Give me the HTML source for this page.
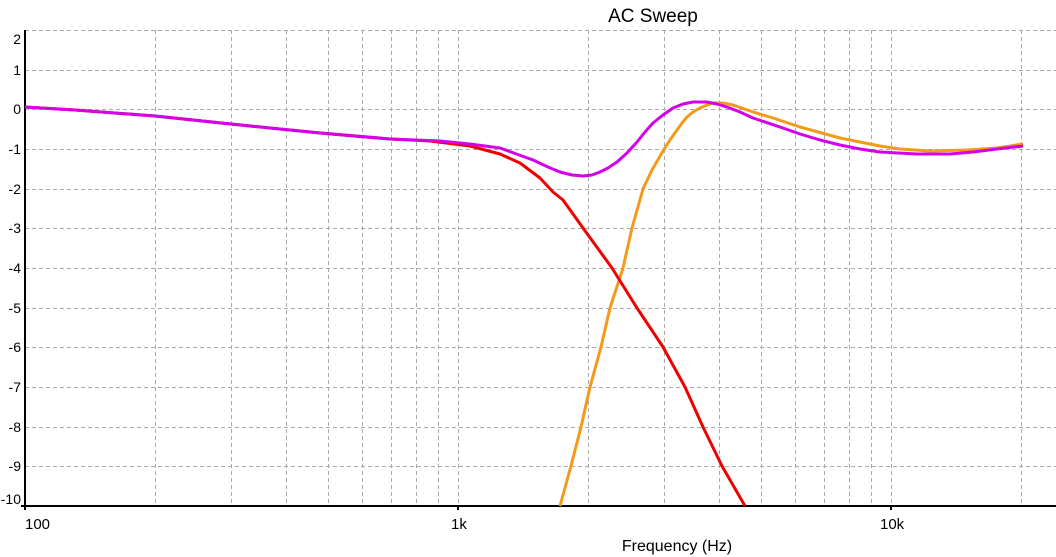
<!DOCTYPE html>
<html><head><style>html,body{margin:0;padding:0;background:#fff}svg{display:block}</style></head>
<body>
<svg width="1056" height="557" xmlns="http://www.w3.org/2000/svg" font-family="Liberation Sans, sans-serif">
<rect width="1056" height="557" fill="#fff"/>
<g stroke="#aaa" stroke-width="1" stroke-dasharray="4,3">
<line x1="25" x2="1056" y1="30.5" y2="30.5"/>
<line x1="25" x2="1056" y1="70.5" y2="70.5"/>
<line x1="25" x2="1056" y1="109.5" y2="109.5"/>
<line x1="25" x2="1056" y1="149.5" y2="149.5"/>
<line x1="25" x2="1056" y1="189.5" y2="189.5"/>
<line x1="25" x2="1056" y1="228.5" y2="228.5"/>
<line x1="25" x2="1056" y1="268.5" y2="268.5"/>
<line x1="25" x2="1056" y1="308.5" y2="308.5"/>
<line x1="25" x2="1056" y1="347.5" y2="347.5"/>
<line x1="25" x2="1056" y1="387.5" y2="387.5"/>
<line x1="25" x2="1056" y1="427.5" y2="427.5"/>
<line x1="25" x2="1056" y1="466.5" y2="466.5"/>
<g>
<line x1="155.5" x2="155.5" y1="30" y2="506"/><line x1="231.5" x2="231.5" y1="30" y2="506"/><line x1="286.5" x2="286.5" y1="30" y2="506"/><line x1="328.5" x2="328.5" y1="30" y2="506"/><line x1="362.5" x2="362.5" y1="30" y2="506"/><line x1="391.5" x2="391.5" y1="30" y2="506"/><line x1="416.5" x2="416.5" y1="30" y2="506"/><line x1="438.5" x2="438.5" y1="30" y2="506"/><line x1="458.5" x2="458.5" y1="30" y2="506"/>
<line x1="588.5" x2="588.5" y1="30" y2="506"/><line x1="664.5" x2="664.5" y1="30" y2="506"/><line x1="719.5" x2="719.5" y1="30" y2="506"/><line x1="761.5" x2="761.5" y1="30" y2="506"/><line x1="795.5" x2="795.5" y1="30" y2="506"/><line x1="824.5" x2="824.5" y1="30" y2="506"/><line x1="849.5" x2="849.5" y1="30" y2="506"/><line x1="871.5" x2="871.5" y1="30" y2="506"/><line x1="891.5" x2="891.5" y1="30" y2="506"/>
<line x1="1021.5" x2="1021.5" y1="30" y2="506"/>
</g>
</g>
<g stroke="#000" stroke-width="2">
<line x1="25" x2="25" y1="30" y2="510"/>
<line x1="21" x2="1056" y1="506" y2="506"/>
<line x1="458" x2="458" y1="506" y2="510"/>
<line x1="891" x2="891" y1="506" y2="510"/>
</g>
<g font-size="14" text-anchor="end" fill="#000">
<text x="21" y="44">2</text><text x="21" y="75">1</text><text x="21" y="114">0</text><text x="21" y="154">-1</text><text x="21" y="194">-2</text><text x="21" y="233">-3</text><text x="21" y="273">-4</text><text x="21" y="313">-5</text><text x="21" y="352">-6</text><text x="21" y="392">-7</text><text x="21" y="432">-8</text><text x="21" y="471">-9</text><text x="21" y="504">-10</text>
</g>
<g font-size="15" fill="#000">
<text x="25" y="529">100</text><text x="451" y="529">1k</text><text x="880" y="529">10k</text>
</g>
<text x="653" y="22" font-size="19" text-anchor="middle">AC Sweep</text>
<text x="677" y="551" font-size="16" text-anchor="middle">Frequency (Hz)</text>
<g fill="none" stroke-width="3" stroke-linejoin="round">
<polyline stroke="#f39a1a" points="560,506 571,466 581,427 590,387 601,347 610,308 623,268 632,228 643,189 652,170 663,151 670,140 677,130 682,123 687,117 693,112 700,108 707,105 713,103 723,103 733,105 753,112 773,118 800,127 840,138 880,146 900,149 930,151 967,150 997,148 1023,144"/>
<polyline stroke="#f00000" points="25,107 75,110 155,116 250,126 320,133 390,139 430,141 470,146 500,154 520,163 540,178 553,192 563,200 583,228 612,268 637,308 663,347 685,387 703,427 722,466 745,506"/>
<polyline stroke="#d400e8" points="25,107 75,110 155,116 250,126 320,133 390,139 440,141 470,144 500,148 533,160 548,167 560,172 572,175 583,176 592,175 600,172 608,168 617,162 627,153 637,142 645,132 653,123 663,115 673,108 683,104 693,102 707,102 717,104 727,107 740,112 753,118 780,127 800,134 820,140 840,145 860,149 880,152 917,154 950,154 973,152 997,149 1023,146"/>
</g>
</svg>
</body></html>
